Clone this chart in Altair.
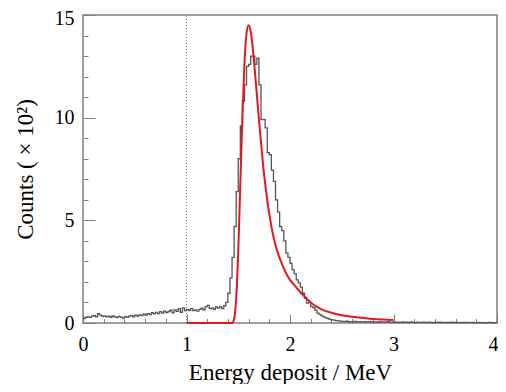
import altair as alt
import pandas as pd

# Histogram counts (x10^2), bins of 0.02 MeV from 0 to 4 MeV
counts_low = [
    0.22, 0.28, 0.30, 0.27, 0.33, 0.36, 0.30, 0.45, 0.38, 0.32,
    0.35, 0.30, 0.33, 0.28, 0.34, 0.30, 0.26, 0.32, 0.29, 0.24,
    0.31, 0.27, 0.33, 0.36, 0.30, 0.38, 0.34, 0.40, 0.36, 0.44,
    0.39, 0.46, 0.41, 0.50, 0.44, 0.52, 0.46, 0.55, 0.48, 0.58,
    0.51, 0.56, 0.62, 0.50, 0.64, 0.57, 0.70, 0.52, 0.74, 0.60,
    0.66, 0.62, 0.70, 0.60, 0.64, 0.58, 0.66, 0.72, 0.64, 0.80,
    0.86, 0.70, 0.74, 0.66, 0.78, 0.72, 0.80, 0.70, 0.84,
]
counts_peak = [
    1.0, 1.45, 2.2, 3.2, 4.7, 6.4, 8.0, 9.6, 10.8, 11.6,
    12.5, 12.6, 13.0, 13.0, 12.6, 12.9, 11.6, 9.9, 9.9, 9.5,
    8.3, 8.2, 7.45, 6.9, 6.0, 5.4, 4.7, 4.5, 4.0, 3.4,
    3.2, 2.9, 2.6, 2.4, 2.1, 1.95, 1.75, 1.45, 1.2, 0.97,
    1.0, 0.8, 0.75, 0.63, 0.48, 0.42, 0.35, 0.30, 0.25, 0.22,
    0.18, 0.15, 0.14, 0.12, 0.10, 0.09,
]
counts_tail = [
    0.08, 0.07, 0.09, 0.06, 0.07, 0.05, 0.08, 0.06, 0.05, 0.07,
    0.05, 0.06, 0.04, 0.05, 0.07, 0.04, 0.05, 0.03, 0.06, 0.04,
    0.05, 0.04, 0.06, 0.03, 0.04, 0.05, 0.03, 0.04, 0.02, 0.05,
    0.03, 0.04, 0.02, 0.05, 0.03, 0.02, 0.04, 0.03, 0.02, 0.04,
    0.03, 0.02, 0.04, 0.02, 0.03, 0.02, 0.03, 0.04, 0.02, 0.03,
    0.02, 0.03, 0.02, 0.04, 0.02, 0.03, 0.02, 0.02, 0.03, 0.02,
    0.03, 0.02, 0.02, 0.03, 0.01, 0.02, 0.03, 0.02, 0.02, 0.01,
    0.02, 0.03, 0.01, 0.02, 0.02,
]
counts = counts_low + counts_peak + counts_tail
bin_width = 0.02
edges = [round(i * bin_width, 2) for i in range(len(counts) + 1)]

# Fit curve (x10^2)
fit_e = [1.00, 1.40, 1.44, 1.46, 1.48, 1.50, 1.52, 1.54, 1.56, 1.58, 1.60,
         1.62, 1.64, 1.66, 1.68, 1.70, 1.72, 1.74, 1.76, 1.78, 1.80, 1.84,
         1.88, 1.92, 1.96, 2.00, 2.05, 2.10, 2.15, 2.20, 2.25, 2.30, 2.40,
         2.50, 2.60, 2.70, 2.80, 2.90, 3.00]
fit_c = [0, 0, 0, 0.2, 1.2, 3.5, 6.8, 10.0, 12.6, 14.1, 14.5,
         14.2, 13.4, 12.3, 11.1, 9.9, 8.8, 7.7, 6.8, 6.0, 5.3, 4.2,
         3.45, 2.9, 2.45, 2.1, 1.8, 1.5, 1.25, 1.0, 0.82, 0.68, 0.5,
         0.38, 0.3, 0.25, 0.2, 0.17, 0.15]

x_major = [0, 1, 2, 3, 4]
x_minor = [round(0.2 * i, 1) for i in range(21) if i % 5 != 0]
y_major = [0, 5, 10, 15]
y_minor = [i for i in range(16) if i % 5 != 0]
cut_value = [1.0]

W, H = 414, 308
FONT = "Liberation Serif, Times New Roman, serif"
GREY = "#808080"

hist_df = pd.DataFrame({"e": edges, "c": counts + [counts[-1]]})
fit_df = pd.DataFrame({"e": fit_e, "c": fit_c})
cut_df = pd.DataFrame({"e": cut_value})

xs = alt.Scale(domain=[0, 4], nice=False, zero=False)
ys = alt.Scale(domain=[0, 15], nice=False)

hist = alt.Chart(hist_df).mark_line(
    interpolate="step-after", color="#555555", strokeWidth=1.3
).encode(
    x=alt.X("e:Q", scale=xs, axis=alt.Axis(
        orient="bottom", values=x_major, ticks=False, tickSize=0, domain=False,
        grid=False, labelPadding=11, labelFlush=False, labelOverlap=False,
        labelOffset={"condition": {"test": "datum.value == 4", "value": -4}, "value": 0},
        labelFont=FONT, titleFont=FONT,
        labelFontSize=20, title="Energy deposit / MeV", titleFontSize=23,
        titleX=W / 2, titleY=56, titleBaseline="alphabetic", titleAlign="center")),
    y=alt.Y("c:Q", scale=ys, axis=alt.Axis(
        orient="left", values=y_major, ticks=False, tickSize=0, domain=False,
        grid=False, labelPadding=9, labelFlush=False, labelOverlap=False,
        labelOffset={"condition": {"test": "datum.value == 15", "value": 3}, "value": 0},
        labelFont=FONT, titleFont=FONT,
        labelFontSize=20, title="Counts ( × 10²)", titleFontSize=23,
        titleX=-58, titleY=H / 2, titleAngle=-90, titleBaseline="middle",
        titleAlign="center")),
)

fit = alt.Chart(fit_df).mark_line(
    interpolate="monotone", color="#e3171f", strokeWidth=2
).encode(
    x=alt.X("e:Q", scale=xs, axis=alt.Axis(
        orient="top", offset=-H, values=x_major, tickSize=9, tickColor=GREY,
        tickWidth=1, labels=False, domain=False, grid=False, title=None)),
    y=alt.Y("c:Q", scale=ys, axis=alt.Axis(
        orient="right", offset=-W, values=y_major, tickSize=12, tickColor=GREY,
        tickWidth=1, labels=False, domain=False, grid=False, title=None)),
)

cut = alt.Chart(cut_df).mark_rule(
    color="#888888", strokeWidth=1, strokeDash=[1, 2]
).encode(
    x=alt.X("e:Q", scale=xs, axis=alt.Axis(
        orient="top", offset=-H, values=x_minor, tickSize=4.5, tickColor=GREY,
        tickWidth=1, labels=False, domain=False, grid=False, title=None)),
    y=alt.Y(datum=0, scale=ys, axis=alt.Axis(
        orient="right", offset=-W, values=y_minor, tickSize=5, tickColor=GREY,
        tickWidth=1, labels=False, domain=False, grid=False, title=None)),
    y2=alt.Y2(datum=15),
)

chart = alt.layer(cut, hist, fit).resolve_axis(
    x="independent", y="independent"
).properties(
    width=W, height=H,
    padding={"left": 75, "top": 7, "right": 1, "bottom": 61},
    autosize=alt.AutoSizeParams(type="none"),
).configure_view(
    stroke=GREY, strokeWidth=1.5
).configure_axis(
    labelFont=FONT, titleFont=FONT, labelColor="black", titleColor="black",
    titleFontWeight="normal"
)

chart.save("out.html", embed_options={"renderer": "svg", "actions": False})
